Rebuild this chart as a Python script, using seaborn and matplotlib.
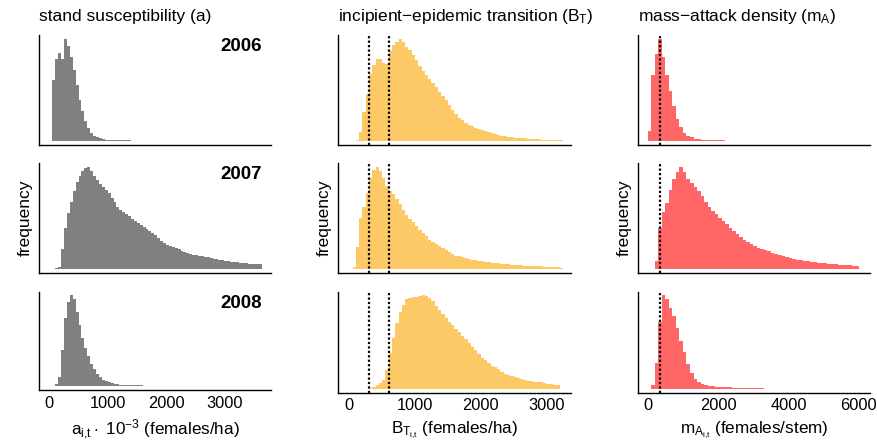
import numpy as np
import pandas as pd
import matplotlib
matplotlib.use("Agg")
import matplotlib.pyplot as plt
import seaborn as sns

# relative bin heights (max = 100)
# gray / orange: bins of 50 starting at 0, red: bins of 100 starting at 0
gray_2006 = [0, 60, 80, 86, 80, 100, 93, 82, 70, 55, 40, 29, 20, 13, 8, 5, 3.5, 2.5,
             1.8, 1.4, 1.1, 1, 0.9, 0.8, 0.7, 0.6, 0.5, 0.5, 0.4, 0.4, 0.3, 0.3, 0.2, 0.2, 0.2]
gray_2007 = [0, 0, 1, 2, 20, 40, 55, 66, 76, 85, 91, 96, 99, 100, 96, 91, 87, 83, 80, 77,
             74, 70, 66, 61, 58, 56, 54, 52, 49, 47, 45, 43, 41, 39, 37, 35, 33, 30, 28, 26,
             24, 22.5, 21.5, 20.5, 19.5, 18, 17, 16, 15, 14, 13.5, 13, 12.7, 12.3, 11.5, 10.8,
             10.2, 9.6, 9, 8.6, 8.2, 7.8, 7.4, 7, 6.6, 6.2, 6, 5.7, 5.5, 5.2, 5, 4.8, 4.6]
gray_2008 = [0, 0.5, 3, 10, 40, 75, 93, 100, 96, 82, 67, 53, 42, 33, 25, 19, 14, 10.5, 7.5,
             5.5, 4.3, 3.3, 2.6, 2.1, 1.7, 1.6, 1.4, 1.3, 1.2, 1.1, 1, 1, 0.9, 0.9, 0.8, 0.8,
             0, 0, 0, 0, 0.3]

orange_2006 = [0, 0, 1, 9, 28, 46, 66, 75, 80, 80, 77, 76, 88, 94, 97, 100, 97, 92, 89, 84,
               79, 74, 69, 65, 61, 57, 53, 48, 44, 40, 35, 30, 26, 23, 20.5, 18, 16, 14.5, 13,
               12, 11, 10, 8.5, 7.5, 6.5, 5.8, 5, 4.5, 3.9, 3.6, 3.3, 3, 2.7, 2.5, 2.2, 2, 1.8,
               1.5, 1.3, 1.2, 1.1, 1.1, 1, 1, 1]
orange_2007 = [0, 2, 22, 50, 61, 74, 89, 97, 100, 96, 89, 81, 76, 73, 69, 64, 58, 53, 49, 46,
               42, 38, 35, 32, 29, 27, 25, 22.5, 20.5, 18.5, 16.5, 14.5, 13, 12.5, 11.8, 10.8,
               10, 9.2, 8.6, 8.1, 7.6, 7.1, 6.6, 6.3, 6, 5.7, 5.4, 5, 4.7, 4.5, 4.2, 4, 3.8,
               3.6, 3.4, 3.2, 3, 2.9, 2.7, 2.5, 2.4, 2.2, 2.1, 2.0, 1.5]
orange_2008 = [0, 0, 0, 0, 0, 0, 1.5, 2.5, 4.5, 6.5, 10, 20, 38, 55, 70, 82, 90, 96, 97.5, 98,
               98.5, 99.5, 100, 99, 97.5, 94, 89, 84, 80, 76, 72, 68, 64, 60.5, 57, 53, 49, 45,
               41.5, 37.5, 33.5, 30.5, 28, 25, 23, 21, 18.5, 16.5, 15, 14, 12.8, 11.8, 11, 10,
               9, 8.3, 7.8, 7.4, 7, 6.3, 5.5, 5, 4.5, 4]

red_2006 = [10, 65, 85, 100, 82, 65, 49, 34, 22, 14, 8, 5, 3.5, 2.3, 1.7, 1.2, 1, 0.9, 0.8,
            0.8, 0.7, 0.7, 0.4, 0.3, 0.3, 0.2, 0.2, 0.2, 0.2, 0.1, 0.1, 0.2]
red_2007 = [0, 0.5, 8, 40, 56, 65, 77, 88, 95, 100, 95, 88, 84, 80, 76, 71, 66, 61, 57, 54,
            50, 47, 44, 40, 37, 34, 31, 29, 27, 25, 22.5, 21, 20, 18.8, 17.5, 16.2, 15, 13.8,
            12.8, 12, 11, 10, 9.3, 8.8, 8.3, 7.8, 7.4, 6.9, 6.5, 6.1, 5.8, 5.5, 5.1, 4.8, 4.5,
            4.2, 4, 3.7, 3.5, 3.3]
red_2008 = [0, 4, 28, 72, 100, 96, 87, 78, 65, 51, 39, 27, 17, 11, 7, 5, 4, 3.3, 2.8, 2.5,
            2.2, 1.9, 1.7, 1.6, 1.5, 1.4, 1.4, 1.3, 1.2, 1.2, 1.1, 1.1, 1.0, 0.4, 0.3, 0, 0,
            0, 0.3]

years = ["2006", "2007", "2008"]
titles = ["stand susceptibility (a)",
          "incipient\u2212epidemic transition ($B_T$)",
          "mass\u2212attack density ($m_A$)"]
xlabels = [r"$a_{i{,}t}\cdot\ 10^{-3}$ (females/ha)",
           r"$B_{T_{i{,}t}}$ (females/ha)",
           r"$m_{A_{i{,}t}}$ (females/stem)"]
xticks = [[0, 1000, 2000, 3000], [0, 1000, 2000, 3000], [0, 2000, 4000, 6000]]
thresholds = [[], [300, 600], [350]]

columns = [[gray_2006, gray_2007, gray_2008],
           [orange_2006, orange_2007, orange_2008],
           [red_2006, red_2007, red_2008]]
bin_width = [50, 50, 100]
colors = ["#808080", "#FDC967", "#FF6666"]
xlims = [(-178, 3810), (-167, 3370), (-283, 6323)]

sns.set_style("white")
plt.rcParams["font.family"] = ["Liberation Sans", "DejaVu Sans"]
plt.rcParams["mathtext.fontset"] = "custom"
plt.rcParams["mathtext.rm"] = "Liberation Sans"
plt.rcParams["mathtext.it"] = "Liberation Sans"
plt.rcParams["mathtext.bf"] = "Liberation Sans:bold"
plt.rcParams["text.color"] = "black"
plt.rcParams["xtick.color"] = "black"
plt.rcParams["axes.labelcolor"] = "black"

W, H = 878, 443
fig = plt.figure(figsize=(W / 100, H / 100), dpi=100)

col_left = [39, 338.3, 637.8]
col_w = 232.5
row_top = [35, 162.7, 291.7]
row_bot = [[145, 273.3, 390], [145, 273.3, 392.7], [145, 273.3, 392.7]]

for c in range(3):
    for r in range(3):
        top, bot = row_top[r], row_bot[c][r]
        ax = fig.add_axes([col_left[c] / W, 1 - bot / H, col_w / W, (bot - top) / H])
        counts = np.array(columns[c][r], dtype=float)
        bw = bin_width[c]
        df = pd.DataFrame({"value": np.arange(len(counts)) * bw + bw / 2, "count": counts})
        sns.histplot(data=df, x="value", weights="count", binwidth=bw,
                     binrange=(0, len(counts) * bw), element="step",
                     fill=True, color=colors[c], alpha=1, linewidth=0, ax=ax)
        for t in thresholds[c]:
            ax.axvline(t, color="black", linestyle=(0, (1, 1)), linewidth=1.6)
        ax.set_xlim(*xlims[c])
        ax.set_ylim(-4, 104)
        ax.set_ylabel("")
        ax.set_xlabel("")
        ax.set_yticks([])
        ax.set_xticks(xticks[c])
        ax.tick_params(axis="x", length=0, pad=4, labelsize=11.8, labelcolor="black",
                       labelbottom=(r == 2))
        for side in ["top", "right"]:
            ax.spines[side].set_visible(False)
        for side in ["left", "bottom"]:
            ax.spines[side].set_color("black")
            ax.spines[side].set_linewidth(1.0)
        if c == 0:
            ax.annotate(years[r], xy=(1, 1), xycoords="axes fraction",
                        xytext=(-7, -8.6), textcoords="offset points",
                        ha="right", va="center", fontsize=13.5, fontweight="bold")
        if r == 1:
            fig.text((col_left[c] - 14) / W, 1 - (top + bot) / 2 / H, "frequency",
                     rotation=90, ha="center", va="center", fontsize=12.5)
        if r == 0:
            fig.text(col_left[c] / W, 1 - 16 / H, titles[c], ha="left", va="center",
                     fontsize=12.5)
        if r == 2:
            fig.text((col_left[c] + col_w / 2) / W, 1 - 430 / H, xlabels[c],
                     ha="center", va="center", fontsize=12.3)

fig.savefig("out.png", dpi=100)
